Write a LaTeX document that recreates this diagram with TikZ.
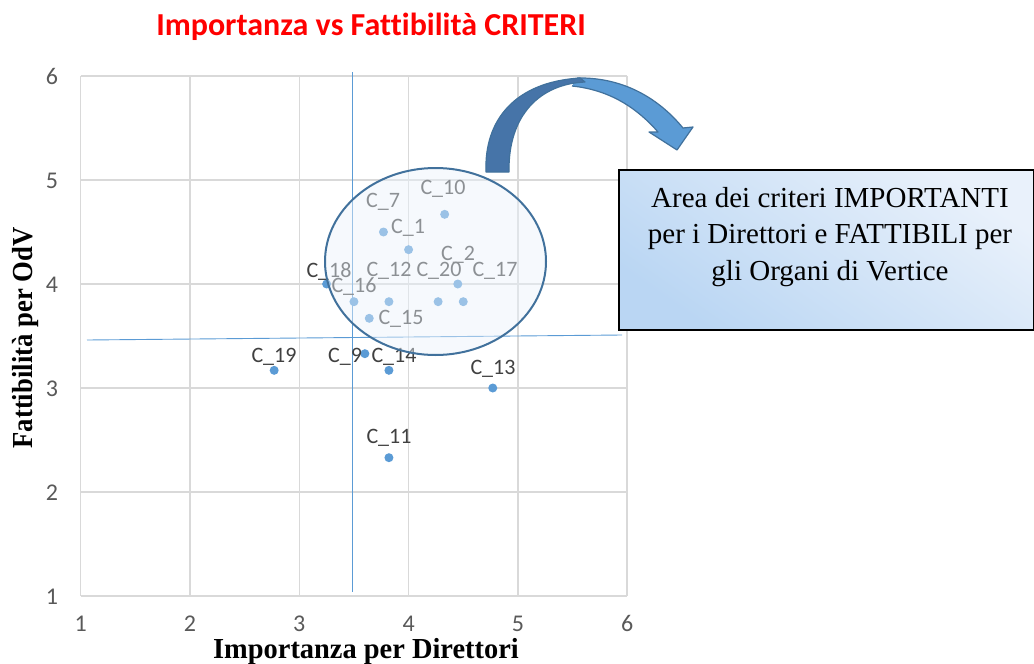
\documentclass[tikz,border=0pt]{standalone}
\usepackage{fontspec}
\setmainfont{Liberation Serif}
\newfontfamily\calibri[Ligatures=NoCommon]{Carlito}
\definecolor{gridc}{HTML}{D9D9D9}
\definecolor{ptc}{HTML}{5B9BD5}
\definecolor{lblc}{HTML}{404040}
\definecolor{tickc}{HTML}{595959}
\definecolor{ellc}{HTML}{41719C}
\definecolor{ellfill}{HTML}{EAF2FB}
\definecolor{darkarr}{HTML}{4674A8}
\definecolor{boxtop}{HTML}{BAD6F3}
\definecolor{boxbot}{HTML}{E9F1FB}
\tikzset{
  gridline/.style={draw=gridc, line width=1.5pt},
  thresh/.style={draw=ptc, line width=0.9pt},
  datapt/.style={circle, fill=ptc, inner sep=0pt, minimum size=9pt},
  dlabel/.style={font=\calibri\fontsize{22}{24}\selectfont, text=lblc, inner sep=0pt},
  ticklbl/.style={font=\calibri\fontsize{24}{26}\selectfont, text=tickc, inner sep=0pt, text height=15pt, text depth=0pt},
  axtitle/.style={font=\bfseries\fontsize{29}{32}\selectfont, inner sep=0pt},
  ellshape/.style={draw=ellc, line width=2pt, fill=ellfill, fill opacity=0.45},
  arrowpart/.style={draw=ellc, line width=1.2pt, line join=round},
  infobox/.style={draw=black, line width=1.6pt, top color=boxtop, bottom color=boxbot, shading angle=145},
}
\begin{document}
\begin{tikzpicture}[x=1pt,y=-1pt]
\useasboundingbox (0,0) rectangle (1034,664);
% title
\node[font=\calibri\bfseries\fontsize{32}{34}\selectfont, text=red, inner sep=0pt] (title) at (371,27) {Importanza vs Fattibilità CRITERI};
% grid
\foreach \i in {0,...,5} {
  \draw[gridline] (80.7+109.3*\i,76) -- (80.7+109.3*\i,596);
  \draw[gridline] (80.7,596-104*\i) -- (627.2,596-104*\i);
}
% tick labels
\foreach \i in {1,...,6} {
  \node[ticklbl] (ty\i) at (52,597-104*\i+104) {\i};
  \node[ticklbl] (tx\i) at (80.7+109.3*\i-109.3,624) {\i};
}
% axis titles
\node[axtitle, anchor=base, text height=20pt, text depth=0pt] (xtitle) at (366,658) {\scalebox{0.98}[1]{Importanza per Direttori}};
\node[axtitle, rotate=90] (ytitle) at (26,338) {\scalebox{0.92}[1]{Fattibilità per OdV}};
% threshold lines
\coordinate (vt) at (352,72);
\coordinate (vb) at (352,592);
\coordinate (hl) at (87,340);
\coordinate (hr) at (622,335);
\draw[thresh] (vt) -- (vb);
\draw[thresh] (hl) -- (hr);
% data points
\begin{scope}[x=109.3pt, y=104pt, shift={(-28.6pt,-700pt)}]
  \node[datapt] (c10) at (4.33,4.67) {};
  \node[datapt] (c1) at (3.77,4.50) {};
  \node[datapt] (c7) at (4.00,4.33) {};
  \node[datapt] (c2) at (4.45,4.00) {};
  \node[datapt] (c18) at (3.25,4.00) {};
  \node[datapt] (c16) at (3.50,3.83) {};
  \node[datapt] (c12) at (3.82,3.83) {};
  \node[datapt] (c20) at (4.27,3.83) {};
  \node[datapt] (c17) at (4.50,3.83) {};
  \node[datapt] (c15) at (3.64,3.67) {};
  \node[datapt] (c9) at (3.60,3.33) {};
  \node[datapt] (c14) at (3.82,3.17) {};
  \node[datapt] (c19) at (2.77,3.17) {};
  \node[datapt] (c13) at (4.77,3.00) {};
  \node[datapt] (c11) at (3.82,2.33) {};
\end{scope}
% data labels
\node[dlabel] (l10) at (443,189) {C\_10};
\node[dlabel] (l7) at (383,202) {C\_7};
\node[dlabel] (l1) at (408,228) {C\_1};
\node[dlabel] (l2) at (458,255) {C\_2};
\node[dlabel] (l18) at (329,271) {C\_18};
\node[dlabel] (l12) at (389,271) {C\_12};
\node[dlabel] (l20) at (439,271) {C\_20};
\node[dlabel] (l17) at (495,271) {C\_17};
\node[dlabel] (l16) at (354,287) {C\_16};
\node[dlabel] (l15) at (401,319) {C\_15};
\node[dlabel] (l9) at (345,357) {C\_9};
\node[dlabel] (l14) at (394,357) {C\_14};
\node[dlabel] (l19) at (274,357) {C\_19};
\node[dlabel] (l13) at (493,369) {C\_13};
\node[dlabel] (l11) at (389,438) {C\_11};
% ellipse highlight
\draw[ellshape] (435.5,261.5) ellipse [x radius=110.5, y radius=93.5];
% curved arrow
\fill[ptc] (577,78) .. controls (625,77) and (660,100) .. (683,128) -- (693,127) -- (677,150) -- (649,132) -- (658,132) .. controls (637,108) and (610,90) .. (572,86) -- cycle;
\draw[arrowpart] (577,78) .. controls (625,77) and (660,100) .. (683,128) -- (693,127) -- (677,150) -- (649,132) -- (658,132) .. controls (637,108) and (610,90) .. (572,86);
\filldraw[arrowpart, fill=darkarr] (486,172) .. controls (484,120) and (515,82) .. (580,78) -- (585,82) .. controls (540,84) and (508,115) .. (509,172) -- cycle;
% info box
\node[infobox, anchor=north west, minimum width=415, minimum height=160] (box) at (618,169) {};
\node[font=\fontsize{29}{36.5}\selectfont, align=center, inner sep=0pt] (boxtext) at (830,237) {Area dei criteri IMPORTANTI\\per i Direttori e FATTIBILI per\\gli Organi di Vertice};
\end{tikzpicture}
\end{document}
